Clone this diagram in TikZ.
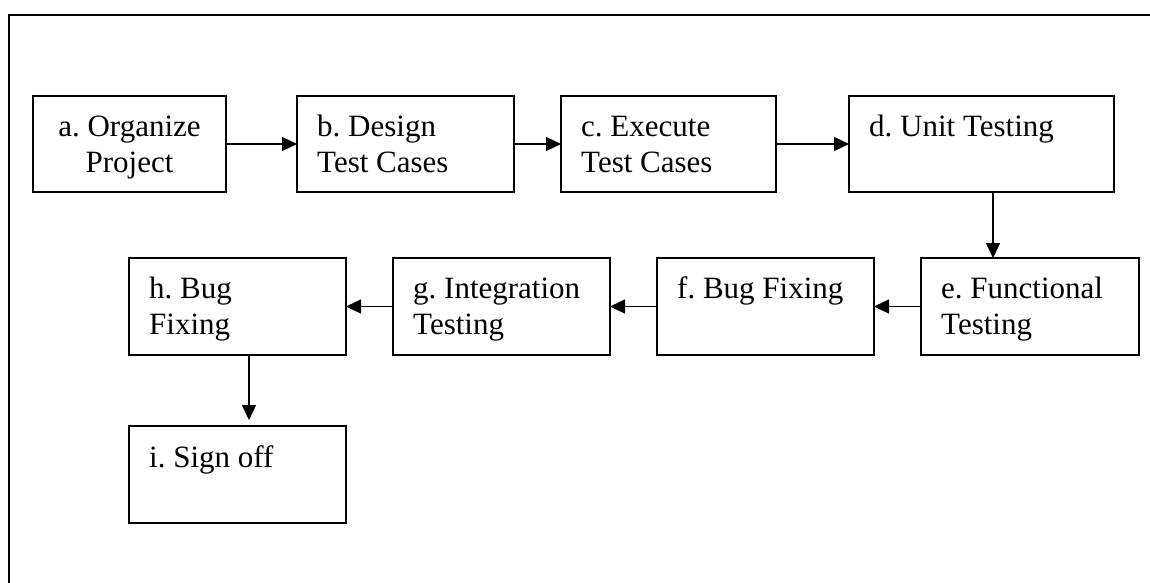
\documentclass[tikz,border=0pt]{standalone}
\usepackage{fontspec}
\setmainfont{Liberation Serif}
\usetikzlibrary{arrows.meta,calc}
\frenchspacing
\tikzset{
  box/.style={draw, line width=2pt, rectangle, anchor=north west, inner sep=0pt, outer sep=0pt},
  txt/.style={inner sep=0pt, font=\fontsize{31}{36.7}\selectfont},
  arr/.style={line width=1.4pt, -{Triangle[length=15pt,width=14pt]}},
  frame/.style={line width=1.6pt}
}
\begin{document}
\begin{tikzpicture}[x=1pt,y=1pt]
\useasboundingbox (0,0) rectangle (1150,-583);
\draw[frame] (9,-590) -- (9,-15) -- (1160,-15);
% boxes
\node[box, minimum width=193, minimum height=96] (a) at (33,-96) {};
\node[box, minimum width=217, minimum height=96] (b) at (297,-96) {};
\node[box, minimum width=215, minimum height=96] (c) at (561,-96) {};
\node[box, minimum width=265, minimum height=96] (d) at (849,-96) {};
\node[box, minimum width=218, minimum height=97] (e) at (921,-258) {};
\node[box, minimum width=217, minimum height=97] (f) at (657,-258) {};
\node[box, minimum width=217, minimum height=97] (g) at (393,-258) {};
\node[box, minimum width=217, minimum height=97] (h) at (129,-258) {};
\node[box, minimum width=217, minimum height=97] (i) at (129,-426) {};
% texts
\node[txt, anchor=base] (ta) at ($(a.north)+(0,-40)$) {\parbox[t]{190pt}{\centering a. Organize\\Project}};
\node[txt, anchor=base west] (tb) at ($(b.north west)+(20,-40)$) {\parbox[t]{195pt}{\raggedright b. Design\\Test Cases}};
\node[txt, anchor=base west] (tc) at ($(c.north west)+(20,-40)$) {\parbox[t]{195pt}{\raggedright c. Execute\\Test Cases}};
\node[txt, anchor=base west] (td) at ($(d.north west)+(20,-40)$) {\parbox[t]{240pt}{\raggedright d. Unit Testing}};
\node[txt, anchor=base west] (te) at ($(e.north west)+(20,-40)$) {\parbox[t]{195pt}{\raggedright e. Functional\\Testing}};
\node[txt, anchor=base west] (tf) at ($(f.north west)+(20,-40)$) {\parbox[t]{195pt}{\raggedright f. Bug Fixing}};
\node[txt, anchor=base west] (tg) at ($(g.north west)+(20,-40)$) {\parbox[t]{195pt}{\raggedright g. Integration\\Testing}};
\node[txt, anchor=base west] (th) at ($(h.north west)+(20,-40)$) {\parbox[t]{195pt}{\raggedright h. Bug\\Fixing}};
\node[txt, anchor=base west] (ti) at ($(i.north west)+(20,-41)$) {\parbox[t]{195pt}{\raggedright i. Sign off}};
% connectors
\draw[arr] (a.east) -- (b.west);
\draw[arr] (b.east) -- (c.west);
\draw[arr] (c.east) -- (d.west);
\draw[arr] ($(d.south west)+(144,0)$) -- ($(e.north west)+(72,0)$);
\draw[arr] (e.west) -- (f.east);
\draw[arr] (f.west) -- (g.east);
\draw[arr] (g.west) -- (h.east);
\draw[arr] ($(h.south west)+(120,0)$) -- ($(i.north west)+(120,6)$);
\end{tikzpicture}
\end{document}
